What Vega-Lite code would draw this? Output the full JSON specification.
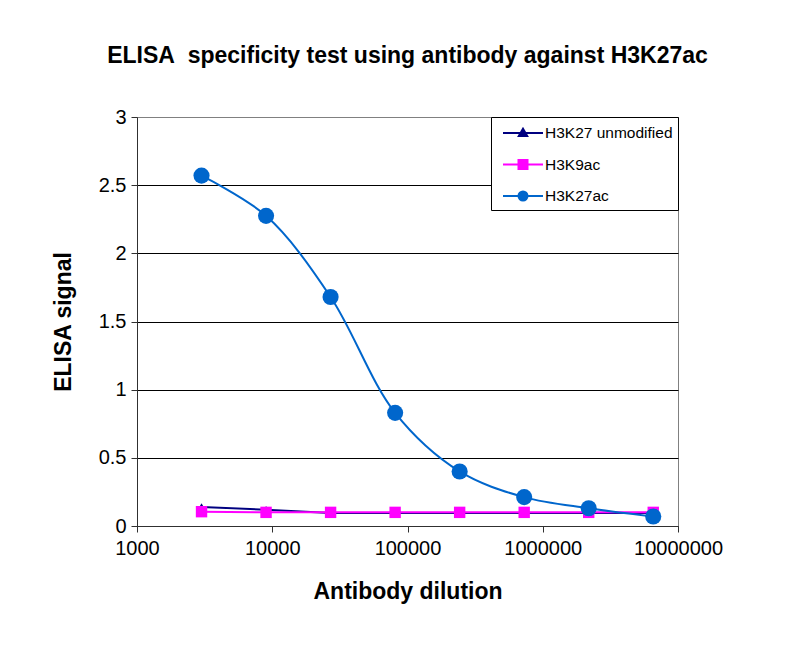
{
  "$schema": "https://vega.github.io/schema/vega-lite/v6.json",
  "autosize": "none",
  "width": 541,
  "height": 409,
  "padding": {"top": 117, "left": 137, "right": 123, "bottom": 141},
  "background": "white",
  "title": {
    "text": "ELISA\u00a0 specificity test using antibody against H3K27ac",
    "font": "Liberation Sans",
    "fontSize": 23,
    "fontWeight": "bold",
    "color": "black",
    "anchor": "middle",
    "baseline": "alphabetic",
    "offset": 21
  },
  "config": {
    "view": {"stroke": "#808080", "strokeWidth": 1},
    "axis": {
      "labelFont": "Liberation Sans",
      "titleFont": "Liberation Sans",
      "labelColor": "black",
      "titleColor": "black",
      "domainColor": "#303030",
      "tickColor": "#303030",
      "labelFontSize": 20,
      "titleFontSize": 23,
      "titleFontWeight": "bold",
      "tickSize": 6
    }
  },
  "data": {
    "values": [
      {"series": "H3K27 unmodified", "dilution": 3000, "signal": 0.14},
      {"series": "H3K27 unmodified", "dilution": 9000, "signal": 0.12},
      {"series": "H3K27 unmodified", "dilution": 27000, "signal": 0.095},
      {"series": "H3K27 unmodified", "dilution": 81000, "signal": 0.095},
      {"series": "H3K27 unmodified", "dilution": 243000, "signal": 0.095},
      {"series": "H3K27 unmodified", "dilution": 729000, "signal": 0.095},
      {"series": "H3K27 unmodified", "dilution": 2187000, "signal": 0.095},
      {"series": "H3K27 unmodified", "dilution": 6561000, "signal": 0.095},
      {"series": "H3K9ac", "dilution": 3000, "signal": 0.105},
      {"series": "H3K9ac", "dilution": 9000, "signal": 0.1},
      {"series": "H3K9ac", "dilution": 27000, "signal": 0.1},
      {"series": "H3K9ac", "dilution": 81000, "signal": 0.1},
      {"series": "H3K9ac", "dilution": 243000, "signal": 0.1},
      {"series": "H3K9ac", "dilution": 729000, "signal": 0.1},
      {"series": "H3K9ac", "dilution": 2187000, "signal": 0.1},
      {"series": "H3K9ac", "dilution": 6561000, "signal": 0.1},
      {"series": "H3K27ac", "dilution": 3000, "signal": 2.57},
      {"series": "H3K27ac", "dilution": 9000, "signal": 2.275},
      {"series": "H3K27ac", "dilution": 27000, "signal": 1.68},
      {"series": "H3K27ac", "dilution": 81000, "signal": 0.83},
      {"series": "H3K27ac", "dilution": 243000, "signal": 0.4},
      {"series": "H3K27ac", "dilution": 729000, "signal": 0.212},
      {"series": "H3K27ac", "dilution": 2187000, "signal": 0.13},
      {"series": "H3K27ac", "dilution": 6561000, "signal": 0.07}
    ]
  },
  "encoding": {
    "x": {
      "field": "dilution",
      "type": "quantitative",
      "scale": {"type": "log", "domain": [1000, 10000000], "nice": false},
      "axis": {
        "title": "Antibody dilution",
        "values": [1000, 10000, 100000, 1000000, 10000000],
        "format": "d",
        "grid": false,
        "labelFlush": false,
        "labelOverlap": false,
        "labelPadding": 6,
        "titlePadding": 22
      }
    },
    "y": {
      "field": "signal",
      "type": "quantitative",
      "scale": {"domain": [0, 3], "nice": false, "zero": true},
      "axis": {
        "title": "ELISA signal",
        "values": [0, 0.5, 1, 1.5, 2, 2.5, 3],
        "format": "~g",
        "grid": true,
        "gridColor": {"condition": {"test": "datum.value == 3", "value": "#808080"}, "value": "black"},
        "gridWidth": 1,
        "labelPadding": 5,
        "labelFlush": false,
        "titlePadding": 23
      }
    },
    "color": {
      "field": "series",
      "type": "nominal",
      "scale": {
        "domain": ["H3K27 unmodified", "H3K9ac", "H3K27ac"],
        "range": ["#000080", "#FF00FF", "#0066CC"]
      }
    }
  },
  "layer": [
    {
      "transform": [{"filter": "datum.series != 'H3K27ac'"}],
      "mark": {"type": "line", "strokeWidth": 2}
    },
    {
      "transform": [{"filter": "datum.series == 'H3K27ac'"}],
      "mark": {"type": "line", "strokeWidth": 2, "interpolate": "catmull-rom"}
    },
    {
      "mark": {"type": "point", "filled": true, "opacity": 1},
      "encoding": {
        "shape": {
          "condition": [
            {"test": "datum.series === 'H3K9ac'", "value": "square"},
            {"test": "datum.series === 'H3K27ac'", "value": "circle"}
          ],
          "value": "triangle-up"
        },
        "size": {
          "condition": [
            {"test": "datum.series === 'H3K9ac'", "value": 130},
            {"test": "datum.series === 'H3K27ac'", "value": 260}
          ],
          "value": 70
        },
        "color": {
          "field": "series",
          "type": "nominal",
          "legend": {
            "title": null,
            "orient": "top-right",
            "offset": 0,
            "strokeColor": "black",
            "fillColor": "white",
            "padding": 5,
            "symbolSize": 400,
            "symbolStrokeWidth": 2,
            "symbolOpacity": 1,
            "symbolOffset": 16,
            "labelOffset": 11,
            "labelFont": "Liberation Sans",
            "labelFontSize": 15.5,
            "labelColor": "black",
            "rowPadding": 11.5,
            "labelLimit": 300,
            "encode": {
              "symbols": {
                "update": {
                  "shape": {"signal": "datum.value === 'H3K9ac' ? 'M-2,0H2M-0.45,-0.45H0.45V0.45H-0.45Z' : datum.value === 'H3K27ac' ? 'M-2,0H2M-0.45,0A0.45,0.45,0,1,1,0.45,0A0.45,0.45,0,1,1,-0.45,0Z' : 'M-2,0H2M0,-0.42L0.42,0.3L-0.42,0.3Z'"},
                  "fill": {"signal": "datum.value === 'H3K9ac' ? '#FF00FF' : datum.value === 'H3K27ac' ? '#0066CC' : '#000080'"},
                  "stroke": {"signal": "datum.value === 'H3K9ac' ? '#FF00FF' : datum.value === 'H3K27ac' ? '#0066CC' : '#000080'"}
                }
              }
            }
          }
        }
      }
    }
  ]
}
